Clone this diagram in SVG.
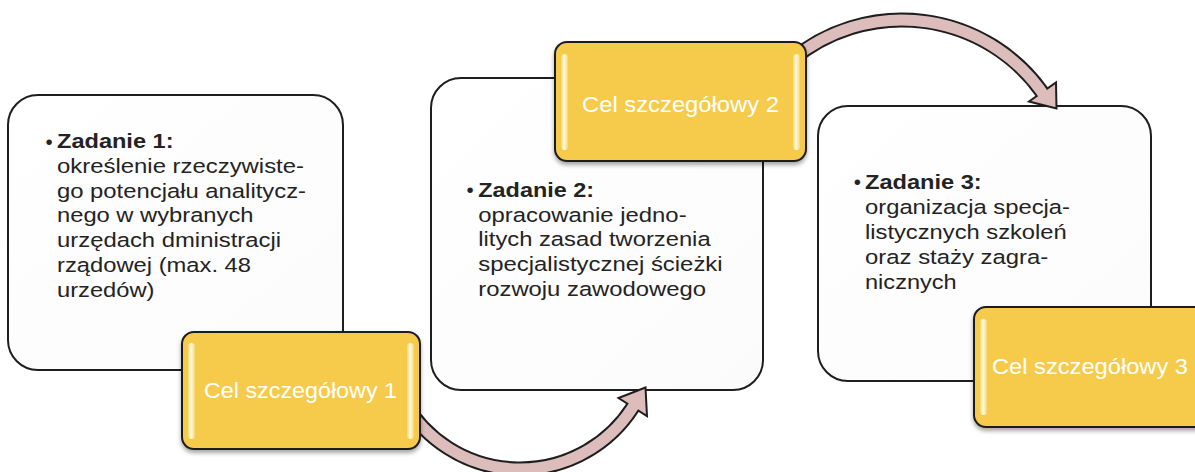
<svg xmlns="http://www.w3.org/2000/svg" width="1195" height="472" viewBox="0 0 1195 472">
  <style>
    .box { fill: url(#whiteFill); stroke: #1e1e1e; stroke-width: 2; }
    .gold { fill: #f6cb4b; stroke: #1e1e1e; stroke-width: 2; filter: url(#shadow); }
    .hl { fill: url(#hlGrad); }
    .t { font-family: "Liberation Sans", Arial, sans-serif; font-size: 20.5px; fill: #232323; }
    .b { font-weight: bold; }
    .g { font-family: "Liberation Sans", Arial, sans-serif; font-size: 22px; fill: #ffffff; }
    .arrowOut { fill: none; stroke: #1e1e1e; stroke-width: 15; stroke-linecap: butt; }
    .arrowIn { fill: none; stroke: #dcbdbb; stroke-width: 11; stroke-linecap: butt; }
    .head { fill: #dcbdbb; stroke: #1e1e1e; stroke-width: 2; stroke-linejoin: miter; }
  </style>
  <defs>
    <linearGradient id="whiteFill" x1="0" y1="0" x2="1" y2="1">
      <stop offset="0" stop-color="#ffffff"/>
      <stop offset="1" stop-color="#fbfbfb"/>
    </linearGradient>
    <linearGradient id="hlGrad" x1="0" y1="0" x2="1" y2="0">
      <stop offset="0" stop-color="#f9d96a"/>
      <stop offset="0.45" stop-color="#fffbe8"/>
      <stop offset="1" stop-color="#f8d768"/>
    </linearGradient>
    <filter id="shadow" x="-10%" y="-10%" width="120%" height="130%">
      <feDropShadow dx="0" dy="3" stdDeviation="2" flood-color="#000000" flood-opacity="0.35"/>
    </filter>
  </defs>

  <!-- Task boxes -->
  <g id="task1">
    <rect class="box" x="8" y="95" width="335" height="275" rx="30" ry="30"/>
    <text class="t" x="45.5" y="148.5">•</text>
    <text class="t" y="147.7">
      <tspan class="b" x="57" textLength="116.5" lengthAdjust="spacingAndGlyphs">Zadanie 1:</tspan>
      <tspan x="57" y="172.6" textLength="247" lengthAdjust="spacingAndGlyphs">określenie rzeczywiste-</tspan>
      <tspan x="57" y="197.5" textLength="249" lengthAdjust="spacingAndGlyphs">go potencjału analitycz-</tspan>
      <tspan x="57" y="222.4" textLength="196.5" lengthAdjust="spacingAndGlyphs">nego w wybranych</tspan>
      <tspan x="57" y="247.3" textLength="224" lengthAdjust="spacingAndGlyphs">urzędach dministracji</tspan>
      <tspan x="57" y="272.2" textLength="194" lengthAdjust="spacingAndGlyphs">rządowej (max. 48</tspan>
      <tspan x="57" y="297.1" textLength="97.5" lengthAdjust="spacingAndGlyphs">urzedów)</tspan>
    </text>
  </g>

  <g id="task2">
    <rect class="box" x="431" y="78" width="332" height="312" rx="30" ry="30"/>
    <text class="t" x="466.5" y="197">•</text>
    <text class="t" y="196.7">
      <tspan class="b" x="478.3" textLength="115.7" lengthAdjust="spacingAndGlyphs">Zadanie 2:</tspan>
      <tspan x="478.3" y="221.5" textLength="208.3" lengthAdjust="spacingAndGlyphs">opracowanie jedno-</tspan>
      <tspan x="478.3" y="246.2" textLength="232.3" lengthAdjust="spacingAndGlyphs">litych zasad tworzenia</tspan>
      <tspan x="478.3" y="271" textLength="244.3" lengthAdjust="spacingAndGlyphs">specjalistycznej ścieżki</tspan>
      <tspan x="478.3" y="295.7" textLength="227.7" lengthAdjust="spacingAndGlyphs">rozwoju zawodowego</tspan>
    </text>
  </g>

  <g id="task3">
    <rect class="box" x="818" y="106" width="333" height="275" rx="30" ry="30"/>
    <text class="t" x="853.8" y="189">•</text>
    <text class="t" y="189.3">
      <tspan class="b" x="865" textLength="116.7" lengthAdjust="spacingAndGlyphs">Zadanie 3:</tspan>
      <tspan x="865" y="214.3" textLength="205" lengthAdjust="spacingAndGlyphs">organizacja specja-</tspan>
      <tspan x="865" y="239.3" textLength="201.7" lengthAdjust="spacingAndGlyphs">listycznych szkoleń</tspan>
      <tspan x="865" y="264.3" textLength="183.3" lengthAdjust="spacingAndGlyphs">oraz staży zagra-</tspan>
      <tspan x="865" y="289.3" textLength="91.7" lengthAdjust="spacingAndGlyphs">nicznych</tspan>
    </text>
  </g>

  <!-- Connectors -->
  <g id="connectors">
    <g id="arrow1">
      <path class="arrowOut" d="M 404 402 A 134 134 0 0 0 633 407"/>
      <polygon class="head" points="647,416 645.5,387.5 618.5,398"/>
      <path class="arrowIn" d="M 404 402 A 134 134 0 0 0 636 402"/>
    </g>
    <g id="arrow2">
      <path class="arrowOut" d="M 791.4 60.2 A 172 172 0 0 1 1042 92.1"/>
      <polygon class="head" points="1056,82.5 1056.5,108.5 1029,101.5"/>
      <path class="arrowIn" d="M 791.4 60.2 A 172 172 0 0 1 1047 99.6"/>
    </g>
  </g>

  <!-- Goal boxes -->
  <g id="goal1">
    <rect class="gold" x="182" y="332" width="238" height="117" rx="12" ry="12"/>
    <rect class="hl" x="188" y="343" width="7" height="96" rx="3.5"/>
    <rect class="hl" x="407" y="343" width="7" height="96" rx="3.5"/>
    <text class="g" x="204" y="398.3" textLength="193" lengthAdjust="spacingAndGlyphs">Cel szczegółowy 1</text>
  </g>

  <g id="goal2">
    <rect class="gold" x="555" y="42" width="251" height="119" rx="12" ry="12"/>
    <rect class="hl" x="561" y="54" width="7" height="96" rx="3.5"/>
    <rect class="hl" x="793" y="54" width="7" height="96" rx="3.5"/>
    <text class="g" x="582" y="112.3" textLength="197" lengthAdjust="spacingAndGlyphs">Cel szczegółowy 2</text>
  </g>

  <g id="goal3">
    <rect class="gold" x="974" y="307" width="240" height="120" rx="12" ry="12"/>
    <rect class="hl" x="980" y="319" width="7" height="96" rx="3.5"/>
    <text class="g" x="992" y="374" textLength="196" lengthAdjust="spacingAndGlyphs">Cel szczegółowy 3</text>
  </g>
</svg>
